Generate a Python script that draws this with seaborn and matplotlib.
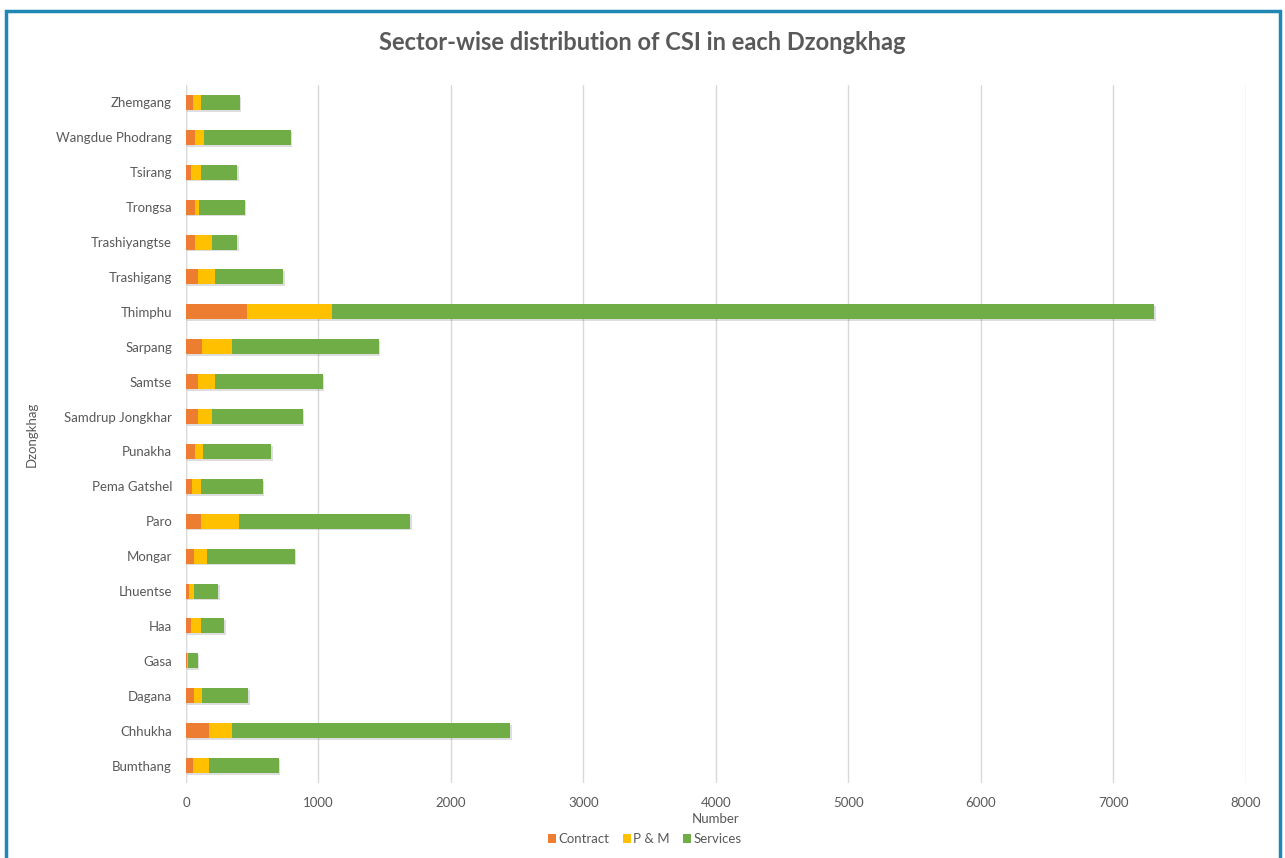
import matplotlib
matplotlib.use("Agg")
import matplotlib.pyplot as plt
import matplotlib.patheffects as pe
from matplotlib.patches import Rectangle, Patch
import seaborn as sns
import pandas as pd

# Dzongkhags listed bottom-to-top as on the chart's category axis
dzongkhags = ["Bumthang", "Chhukha", "Dagana", "Gasa", "Haa", "Lhuentse", "Mongar",
              "Paro", "Pema Gatshel", "Punakha", "Samdrup Jongkhar", "Samtse",
              "Sarpang", "Thimphu", "Trashigang", "Trashiyangtse", "Trongsa",
              "Tsirang", "Wangdue Phodrang", "Zhemgang"]

contract = [50, 173, 60, 5, 38, 25, 60, 111, 48, 65, 88, 88, 121, 463, 88, 68, 68, 38, 68, 50]
p_and_m = [123, 176, 63, 10, 75, 35, 96, 289, 65, 66, 106, 131, 224, 643, 133, 126, 30, 75, 70, 63]
services = [526, 2101, 347, 73, 176, 184, 664, 1294, 468, 513, 688, 812, 1110, 6204, 513, 193, 347, 274, 654, 294]

sectors = ["Contract", "P & M", "Services"]
colors = ["#ED7D31", "#FFC000", "#70AD47"]
x_ticks = [0, 1000, 2000, 3000, 4000, 5000, 6000, 7000, 8000]

df = pd.DataFrame({"Dzongkhag": dzongkhags, "Contract": contract,
                   "P & M": p_and_m, "Services": services})
df["cum_pm"] = df["Contract"] + df["P & M"]
df["total"] = df["cum_pm"] + df["Services"]
order = dzongkhags[::-1]  # top of the axis first

sns.set_theme(style="white")
plt.rcParams["font.family"] = ["Lato", "DejaVu Sans"]

fig = plt.figure(figsize=(12.85, 8.58), dpi=100)
ax = fig.add_axes([186 / 1285, 1 - 783 / 858, (1245.5 - 186) / 1285, (783 - 85) / 858])

shadow = [pe.withSimplePatchShadow(offset=(1, -1.2), shadow_rgbFace="#000000", alpha=0.13), pe.Normal()]

# Stacked bars: draw cumulative totals, then overlay the partial sums
for col, color in [("total", colors[2]), ("cum_pm", colors[1]), ("Contract", colors[0])]:
    sns.barplot(data=df, x=col, y="Dzongkhag", order=order, color=color,
                width=0.43, saturation=1, linewidth=0, ax=ax, orient="h")

for i, bar in enumerate(ax.patches):
    if i < len(dzongkhags):
        bar.set_path_effects(shadow)

ax.set_xlim(0, 8000)
ax.set_xticks(x_ticks)
ax.set_xticklabels([str(t) for t in x_ticks], color="#595959", fontsize=9.5)
ax.set_yticks(range(len(order)))
ax.set_yticklabels(order, color="#595959", fontsize=9.5)
ax.tick_params(axis="both", length=0, pad=10)
ax.xaxis.grid(True, color="#D9D9D9", linewidth=1)
ax.set_axisbelow(True)
for s in ax.spines.values():
    s.set_visible(False)
ax.axvline(0, color="#D9D9D9", linewidth=1, zorder=0)

ax.set_xlabel("Number", color="#595959", fontsize=9.5)
ax.set_ylabel("Dzongkhag", color="#595959", fontsize=9.5)
ax.xaxis.set_label_coords(0.5, -0.043)
ax.yaxis.set_label_coords(-(186 - 38) / (1245.5 - 186), 0.5)

fig.text(0.5, 1 - 42 / 858, "Sector-wise distribution of CSI in each Dzongkhag",
         ha="center", va="center", fontsize=17, fontweight="bold", color="#595959")

handles = [Patch(facecolor=c, edgecolor="none", label=s) for s, c in zip(sectors, colors)]
fig.legend(handles=handles, loc="center", bbox_to_anchor=(645 / 1285, 1 - 839 / 858), ncol=3,
           frameon=False, fontsize=9.5, handlelength=0.6, handleheight=0.6,
           handletextpad=0.2, columnspacing=1.0, labelcolor="#595959")

# Frame around the whole figure
fig.patches.append(Rectangle((5.5 / 1285, -0.01), (1279.5 - 5.5) / 1285, 1 - 10.5 / 858 + 0.01,
                             transform=fig.transFigure, fill=False, edgecolor="#1F87B4",
                             linewidth=2.5, zorder=10))

fig.savefig("out.png", dpi=100, facecolor="white")
